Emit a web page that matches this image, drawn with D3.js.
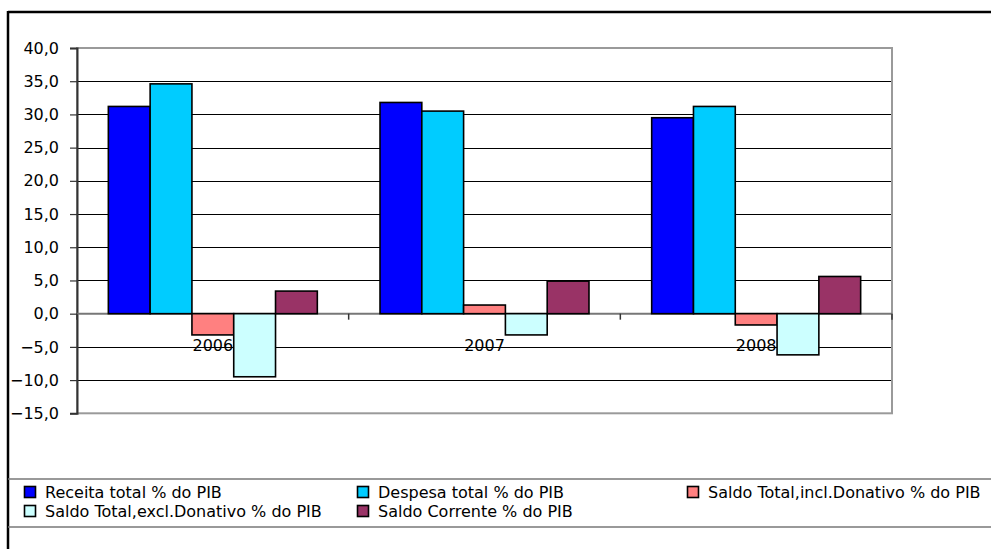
<!DOCTYPE html>
<html>
<head>
<meta charset="utf-8">
<script src="https://cdn.jsdelivr.net/npm/d3@7"></script>
<style>
html,body{margin:0;padding:0;background:#fff;}
svg{display:block;font-family:"DejaVu Sans",Verdana,sans-serif;}
</style>
</head>
<body>
<svg id="chart" width="991" height="549"></svg>
<script>
const categories = ["2006", "2007", "2008"];
const seriesNames = [
  "Receita total % do PIB",
  "Despesa total % do PIB",
  "Saldo Total,incl.Donativo % do PIB",
  "Saldo Total,excl.Donativo % do PIB",
  "Saldo Corrente % do PIB"
];
const receita   = [31.2, 31.8, 29.5];
const despesa   = [34.6, 30.5, 31.2];
const saldoIncl = [-3.2, 1.3, -1.7];
const saldoExcl = [-9.5, -3.2, -6.2];
const corrente  = [3.4, 4.9, 5.6];
const yTicks = [40, 35, 30, 25, 20, 15, 10, 5, 0, -5, -10, -15];
const colors = ["#0000FF", "#00CCFF", "#FF8080", "#CCFFFF", "#993366"];

const seriesValues = [receita, despesa, saldoIncl, saldoExcl, corrente];

const svg = d3.select("#chart");
const plot = {left: 77, right: 892, top: 48, bottom: 413.3};

// outer border (top & left)
svg.append("line").attr("x1", 8).attr("x2", 991).attr("y1", 12).attr("y2", 12)
  .attr("stroke", "#000").attr("stroke-width", 2.5);
svg.append("line").attr("x1", 8).attr("x2", 8).attr("y1", 11).attr("y2", 549)
  .attr("stroke", "#000").attr("stroke-width", 2.5);

const y = d3.scaleLinear().domain([-15, 40]).range([plot.bottom, plot.top]);
const x0 = d3.scaleBand().domain(categories).range([plot.left, plot.right]).padding(0);
const x1 = d3.scaleBand().domain(seriesNames).range([0, x0.bandwidth()])
  .paddingInner(0).paddingOuter(0.75);

// gridlines
svg.append("g").selectAll("line").data(yTicks.filter(t => t !== 0 && t !== 40 && t !== -15))
  .join("line")
  .attr("x1", plot.left).attr("x2", plot.right)
  .attr("y1", d => Math.round(y(d)) + 0.5).attr("y2", d => Math.round(y(d)) + 0.5)
  .attr("stroke", "#000").attr("stroke-width", 1.2);

// plot area border (gray)
svg.append("rect")
  .attr("x", plot.left).attr("y", y(40))
  .attr("width", plot.right - plot.left).attr("height", y(-15) - y(40))
  .attr("fill", "none").attr("stroke", "#9a9a9a").attr("stroke-width", 2);

// y axis
const yAxis = d3.axisLeft(y).tickValues(yTicks).tickSize(7).tickPadding(11)
  .tickFormat(d => d3.format(".1f")(d).replace(".", ","));
const yg = svg.append("g").attr("transform", `translate(${plot.left},0)`).call(yAxis);
yg.select(".domain").attr("stroke", "#333").attr("stroke-width", 2);
yg.selectAll(".tick line").attr("stroke", "#333").attr("stroke-width", 1.2);
yg.selectAll(".tick text").attr("fill", "#000").style("font-size", "16px")
  .style("font-family", "DejaVu Sans, Verdana, sans-serif");

// category labels (drawn before bars so bars overlap them)
svg.append("g").selectAll("text").data(categories).join("text")
  .attr("x", d => x0(d) + x0.bandwidth() / 2)
  .attr("y", 351)
  .attr("text-anchor", "middle")
  .style("font-size", "16px")
  .attr("fill", "#000")
  .text(d => d);

// zero axis line with ticks at category boundaries
svg.append("line").attr("x1", plot.left).attr("x2", plot.right)
  .attr("y1", y(0)).attr("y2", y(0)).attr("stroke", "#777").attr("stroke-width", 2);
const bounds = categories.map(c => x0(c)).concat([plot.right]);
svg.append("g").selectAll("line").data(bounds).join("line")
  .attr("x1", d => d).attr("x2", d => d)
  .attr("y1", y(0)).attr("y2", y(0) + 6)
  .attr("stroke", "#333").attr("stroke-width", 1.5);

// bars
const groups = svg.append("g").selectAll("g").data(categories).join("g")
  .attr("transform", d => `translate(${x0(d)},0)`);
groups.selectAll("rect")
  .data((c, ci) => seriesNames.map((s, si) => ({s, si, v: seriesValues[si][ci]})))
  .join("rect")
  .attr("x", d => x1(d.s))
  .attr("width", x1.bandwidth())
  .attr("y", d => y(Math.max(0, d.v)))
  .attr("height", d => Math.abs(y(d.v) - y(0)))
  .attr("fill", d => colors[d.si])
  .attr("stroke", "#000").attr("stroke-width", 1.6);

// legend
svg.append("line").attr("x1", 8).attr("x2", 991).attr("y1", 479).attr("y2", 479)
  .attr("stroke", "#777").attr("stroke-width", 1.5);
svg.append("line").attr("x1", 8).attr("x2", 991).attr("y1", 527).attr("y2", 527)
  .attr("stroke", "#777").attr("stroke-width", 1.5);

const legendPos = [
  {x: 24, y: 492}, {x: 357, y: 492}, {x: 687, y: 492},
  {x: 24, y: 511}, {x: 357, y: 511}
];
const lg = svg.append("g").selectAll("g").data(seriesNames).join("g")
  .attr("transform", (d, i) => `translate(${legendPos[i].x},${legendPos[i].y})`);
lg.append("rect").attr("x", 0.5).attr("y", -5.5).attr("width", 11).attr("height", 11)
  .attr("fill", (d, i) => colors[i]).attr("stroke", "#000").attr("stroke-width", 1.6);
lg.append("text").attr("x", 21).attr("y", 0).attr("dy", "0.36em")
  .style("font-size", "16px").attr("fill", "#000").text(d => d);
</script>
</body>
</html>
